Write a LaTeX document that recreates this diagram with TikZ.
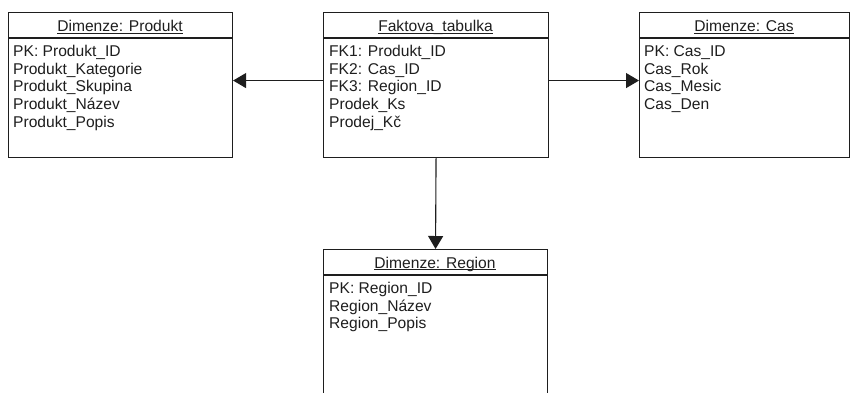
\documentclass[tikz,border=0pt]{standalone}
\usepackage{fontspec}
\setmainfont{Liberation Sans}
\usetikzlibrary{arrows.meta}

% Table title with a thin rule just under the baseline (ignores descenders)
\newcommand\tabtitle[1]{\setbox0\hbox{#1}\rlap{\rule[-1.9pt]{\wd0}{0.9pt}}\box0}

\definecolor{ink}{HTML}{1E1E1E}

\begin{document}
\begin{tikzpicture}[x=1pt,y=-1pt,
  every node/.style={text=ink, font=\fontsize{15.6}{17.7}\selectfont},
  entity/.style={draw=ink, line width=1.1pt, fill=white, inner sep=0pt,
                 anchor=north west, minimum height=145pt},
  divider/.style={draw=ink, line width=1.1pt},
  title/.style={anchor=base, inner sep=0pt},
  attr/.style={anchor=base west, inner sep=0pt},
  link/.style={draw=ink, line width=1.1pt,
               -{Triangle[length=13pt,width=15pt]}}]

\useasboundingbox (0,0) rectangle (851,392);
\clip (0,0) rectangle (851,392);

% ---------- entity boxes ----------
\node[entity, minimum width=224pt] (prod) at (8,12) {};
\node[entity, minimum width=225pt] (fakt) at (323,12) {};
\node[entity, minimum width=210pt] (cas)  at (639,12) {};
\node[entity, minimum width=224pt, minimum height=170pt] (reg) at (323,249) {};

% header separators
\draw[divider] ([yshift=-26pt]prod.north west) -- ([yshift=-26pt]prod.north east);
\draw[divider] ([yshift=-26pt]fakt.north west) -- ([yshift=-26pt]fakt.north east);
\draw[divider] ([yshift=-26pt]cas.north west)  -- ([yshift=-26pt]cas.north east);
\draw[divider] ([yshift=-26pt]reg.north west)  -- ([yshift=-26pt]reg.north east);

% ---------- Dimenze: Produkt ----------
\node[title] (prodT) at (120,31.5) {\tabtitle{Dimenze: Produkt}};
\node[attr] (p1) at (13,56.5)  {PK: Produkt\_ID};
\node[attr] (p2) at (13,74.2)  {Produkt\_Kategorie};
\node[attr] (p3) at (13,91.9)  {Produkt\_Skupina};
\node[attr] (p4) at (13,109.6) {Produkt\_Název};
\node[attr] (p5) at (13,127.3) {Produkt\_Popis};

% ---------- Faktova_tabulka ----------
\node[title] (faktT) at (435.5,31.5) {\tabtitle{Faktova\_tabulka}};
\node[attr] (f1) at (329,56.5)  {FK1: Produkt\_ID};
\node[attr] (f2) at (329,74.2)  {FK2: Cas\_ID};
\node[attr] (f3) at (329,91.9)  {FK3: Region\_ID};
\node[attr] (f4) at (329,109.6) {Prodek\_Ks};
\node[attr] (f5) at (329,127.3) {Prodej\_Kč};

% ---------- Dimenze: Cas ----------
\node[title] (casT) at (744,31.5) {\tabtitle{Dimenze: Cas}};
\node[attr] (c1) at (644,56.5)  {PK: Cas\_ID};
\node[attr] (c2) at (644,74.2)  {Cas\_Rok};
\node[attr] (c3) at (644,91.9)  {Cas\_Mesic};
\node[attr] (c4) at (644,109.6) {Cas\_Den};

% ---------- Dimenze: Region ----------
\node[title] (regT) at (435,268) {\tabtitle{Dimenze: Region}};
\node[attr] (r1) at (329,293.3) {PK: Region\_ID};
\node[attr] (r2) at (329,311)   {Region\_Název};
\node[attr] (r3) at (329,328.7) {Region\_Popis};

% ---------- relations ----------
\draw[link] ([yshift=4.5pt]fakt.west) -- ([yshift=4.5pt]prod.east);
\draw[link] ([yshift=4.5pt]fakt.east) -- ([yshift=4.5pt]cas.west);
\draw[link] (fakt.south) -- (reg.north);

\end{tikzpicture}
\end{document}
